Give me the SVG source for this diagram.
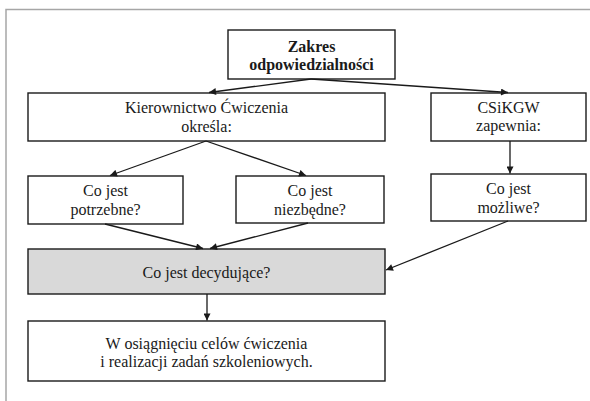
<svg xmlns="http://www.w3.org/2000/svg" width="590" height="401" viewBox="0 0 590 401">
<style>
.box{fill:#ffffff;stroke:#1a1a1a;stroke-width:1.4}
.gray{fill:#d9d9d9}
.c{fill:none;stroke:#1a1a1a;stroke-width:1.3;marker-end:url(#ah)}
.frame{fill:none;stroke:#a6a6a6;stroke-width:1.5}
</style>
<defs>
<marker id="ah" viewBox="0 0 10 10" refX="10" refY="5" markerWidth="8" markerHeight="7" markerUnits="userSpaceOnUse" orient="auto">
<path d="M0,0 L10,5 L0,10 z" fill="#1a1a1a"/>
</marker>
</defs>
<rect width="590" height="401" fill="#ffffff"/>
<path class="frame" d="M6,401 L6,9.5 L590,9.5"/>
<g id="zakres">
<rect class="box" x="228" y="30" width="167" height="49"/>
<text style="font-family:'Liberation Serif'" font-family="Liberation Serif" font-size="16" font-weight="bold" fill="#1a1a1a" text-anchor="middle" x="311.5" y="51.5">Zakres</text>
<text style="font-family:'Liberation Serif'" font-family="Liberation Serif" font-size="16" font-weight="bold" fill="#1a1a1a" text-anchor="middle" x="311.5" y="70">odpowiedzialności</text>
</g>
<g id="kierownictwo">
<rect class="box" x="28" y="93" width="357" height="48"/>
<text style="font-family:'Liberation Serif'" font-family="Liberation Serif" font-size="16" fill="#1a1a1a" text-anchor="middle" x="206.5" y="113">Kierownictwo Ćwiczenia</text>
<text style="font-family:'Liberation Serif'" font-family="Liberation Serif" font-size="16" fill="#1a1a1a" text-anchor="middle" x="206.5" y="132">określa:</text>
</g>
<g id="csikgw">
<rect class="box" x="431" y="93" width="155" height="48"/>
<text style="font-family:'Liberation Serif'" font-family="Liberation Serif" font-size="16" fill="#1a1a1a" text-anchor="middle" x="508.5" y="113">CSiKGW</text>
<text style="font-family:'Liberation Serif'" font-family="Liberation Serif" font-size="16" fill="#1a1a1a" text-anchor="middle" x="508.5" y="131">zapewnia:</text>
</g>
<g id="potrzebne">
<rect class="box" x="28" y="176" width="155" height="48"/>
<text style="font-family:'Liberation Serif'" font-family="Liberation Serif" font-size="16" fill="#1a1a1a" text-anchor="middle" x="105.5" y="196">Co jest</text>
<text style="font-family:'Liberation Serif'" font-family="Liberation Serif" font-size="16" fill="#1a1a1a" text-anchor="middle" x="105.5" y="215">potrzebne?</text>
</g>
<g id="niezbedne">
<rect class="box" x="236" y="176" width="148" height="47"/>
<text style="font-family:'Liberation Serif'" font-family="Liberation Serif" font-size="16" fill="#1a1a1a" text-anchor="middle" x="310" y="196">Co jest</text>
<text style="font-family:'Liberation Serif'" font-family="Liberation Serif" font-size="16" fill="#1a1a1a" text-anchor="middle" x="310" y="215">niezbędne?</text>
</g>
<g id="mozliwe">
<rect class="box" x="431" y="174" width="155" height="47"/>
<text style="font-family:'Liberation Serif'" font-family="Liberation Serif" font-size="16" fill="#1a1a1a" text-anchor="middle" x="508.5" y="193.5">Co jest</text>
<text style="font-family:'Liberation Serif'" font-family="Liberation Serif" font-size="16" fill="#1a1a1a" text-anchor="middle" x="508.5" y="213">możliwe?</text>
</g>
<g id="decydujace">
<rect class="box gray" x="28" y="249" width="357" height="45"/>
<text style="font-family:'Liberation Serif'" font-family="Liberation Serif" font-size="16" fill="#1a1a1a" text-anchor="middle" x="206.5" y="278">Co jest decydujące?</text>
</g>
<g id="cele">
<rect class="box" x="28" y="321" width="357" height="60"/>
<text style="font-family:'Liberation Serif'" font-family="Liberation Serif" font-size="16" fill="#1a1a1a" text-anchor="middle" x="206.5" y="349">W osiągnięciu celów ćwiczenia</text>
<text style="font-family:'Liberation Serif'" font-family="Liberation Serif" font-size="16" fill="#1a1a1a" text-anchor="middle" x="206.5" y="367">i realizacji zadań szkoleniowych.</text>
</g>
<g id="connectors">
<path class="c" d="M311,79 L209,92.5"/>
<path class="c" d="M311,79 L508,92.5"/>
<path class="c" d="M206,141 L110,175.5"/>
<path class="c" d="M206,141 L306,175.5"/>
<path class="c" d="M510,141 L510,173.5"/>
<path class="c" d="M105,224 L203,248.5"/>
<path class="c" d="M308,223 L210,248.5"/>
<path class="c" d="M508,221 L386,270"/>
<path class="c" d="M207,294 L207,320.5"/>
</g>
</svg>
